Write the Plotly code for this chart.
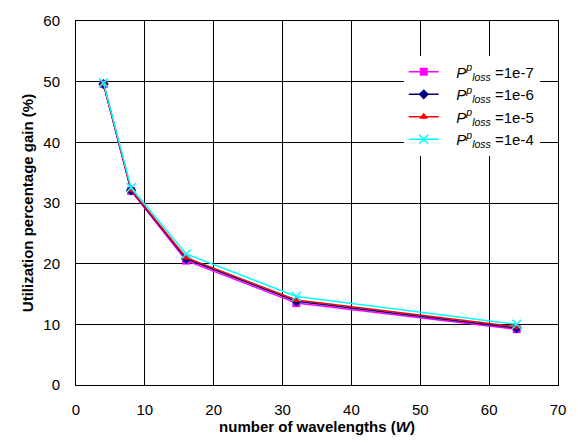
import plotly.graph_objects as go

wavelengths = [4, 8, 16, 32, 64]
gain_1e7 = [49.6, 32.0, 20.5, 13.5, 9.2]
gain_1e6 = [49.6, 32.1, 20.8, 13.8, 9.4]
gain_1e5 = [49.7, 32.2, 21.0, 14.0, 9.6]
gain_1e4 = [49.8, 32.5, 21.6, 14.6, 10.0]
labels = ["1e-7", "1e-6", "1e-5", "1e-4"]

series = [gain_1e7, gain_1e6, gain_1e5, gain_1e4]
colors = ["#FF00FF", "#000080", "#FF0000", "#00FFFF"]
symbols = ["square", "diamond", "triangle-up", "x-thin-open"]

fig = go.Figure()
for ys, c, s, lab in zip(series, colors, symbols, labels):
    marker = dict(symbol=s, size=8, color=c)
    if s == "x-thin-open":
        marker["line"] = dict(color=c, width=1.5)
        marker["size"] = 9
    fig.add_trace(go.Scatter(
        x=wavelengths, y=ys, mode="lines+markers",
        line=dict(color=c, width=1.5), marker=marker,
        name="   <i>P</i><sup><i>p</i></sup><sub><i>loss</i></sub> =" + lab,
    ))

fig.update_layout(
    width=578, height=443,
    margin=dict(l=76, r=18, t=13, b=58),
    paper_bgcolor="white", plot_bgcolor="white",
    font=dict(family="Liberation Sans, Arial", size=15, color="black"),
    showlegend=True,
    legend=dict(x=0.68, y=0.905, xanchor="left", yanchor="top",
                bgcolor="white", borderwidth=0, font=dict(size=15),
                tracegroupgap=0),
    xaxis=dict(range=[0, 70], dtick=10, showgrid=True, gridcolor="black", gridwidth=1,
               showline=True, linecolor="black", linewidth=1, mirror=True,
               zeroline=False, ticks="", ticklabelstandoff=11,
               tickfont=dict(size=15),
               title=dict(text="<b>number of wavelengths (<i>W</i>)</b>", font=dict(size=15), standoff=2)),
    yaxis=dict(range=[0, 60], dtick=10, showgrid=True, gridcolor="black", gridwidth=1,
               showline=True, linecolor="black", linewidth=1, mirror=True,
               zeroline=False, ticks="", ticklabelstandoff=12,
               tickfont=dict(size=15),
               title=dict(text="<b>Utilization percentage gain (%)</b>", font=dict(size=15), standoff=6)),
)

fig.write_html("out.html")
